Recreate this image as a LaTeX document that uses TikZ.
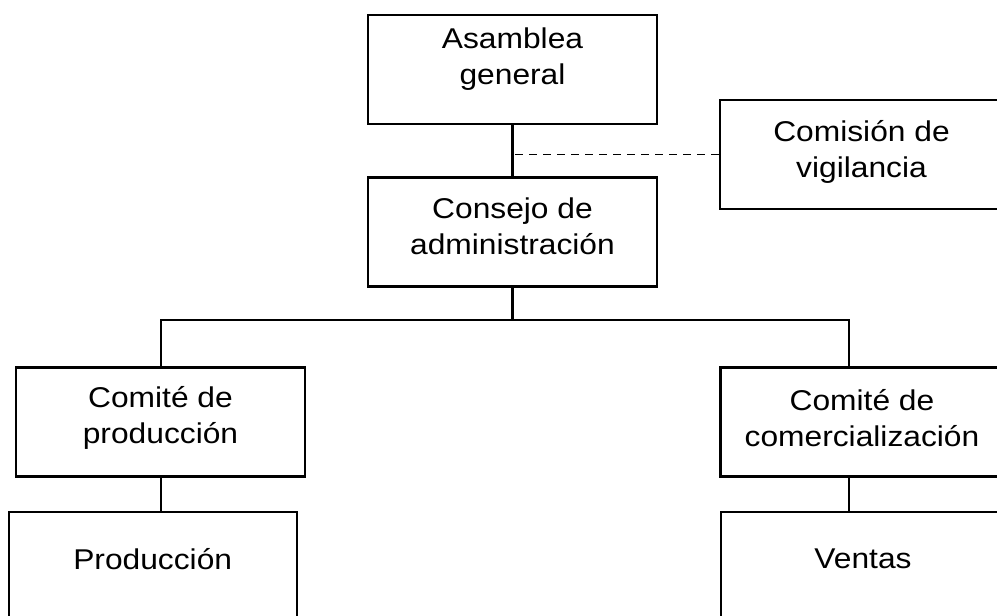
\documentclass[tikz,border=0pt]{standalone}
\usepackage{fontspec}
\setmainfont{Liberation Sans}[FakeStretch=1.11]
\usetikzlibrary{positioning}

\tikzset{
  orgbox/.style={draw=black,line width=2.2pt,inner sep=0pt,minimum height=109pt},
  boxtext/.style={align=center,text=black,font=\fontsize{28.6pt}{36pt}\selectfont},
  link/.style={draw=black,line width=2.2pt},
  dashlink/.style={draw=black,line width=1.8pt,dash pattern=on 8pt off 6pt}
}

\begin{document}
\begin{tikzpicture}[x=1pt,y=-1pt,line cap=butt,line join=miter]
\useasboundingbox (0,0) rectangle (997,616);
% boxes
\node[orgbox,minimum width=289pt,label={[boxtext,yshift=10]center:Asamblea\\general}] (asamblea) at (512.5,69.5) {};
\node[orgbox,minimum width=283pt,label={[boxtext,yshift=3]center:Comisión de\\vigilancia}] (comision) at (861.5,154.5) {};
\node[orgbox,minimum width=289pt,label={[boxtext,yshift=6]center:Consejo de\\administración}] (consejo) at (512.5,232) {};
\node[orgbox,minimum width=289pt,label={[boxtext,yshift=4]center:Comité de\\producción}] (comiteprod) at (160.5,422) {};
\node[orgbox,minimum width=283pt,label={[boxtext,yshift=4]center:Comité de\\comercialización}] (comitecom) at (862,422) {};
\node[orgbox,minimum width=288pt,label={[boxtext,yshift=7]center:Producción}] (produccion) at (152.7,566.2) {};
\node[orgbox,minimum width=284pt,label={[boxtext,yshift=7.5]center:Ventas}] (ventas) at (863,566.2) {};
% connectors
\coordinate (vig) at (asamblea.south |- comision.west);
\coordinate (split) at (512.5,320);
\coordinate (leftdrop) at (161,320);
\coordinate (rightdrop) at (849,320);
\draw[link] (asamblea) -- (consejo);
\draw[dashlink] (comision) -- (vig);
\draw[link] (consejo) -- (split);
\draw[link] (comiteprod.north -| leftdrop) |- (rightdrop) -- (rightdrop |- comitecom.north);
\draw[link] (comiteprod.south -| leftdrop) -- (produccion.north -| leftdrop);
\draw[link] (comitecom.south -| rightdrop) -- (ventas.north -| rightdrop);
\end{tikzpicture}
\end{document}
